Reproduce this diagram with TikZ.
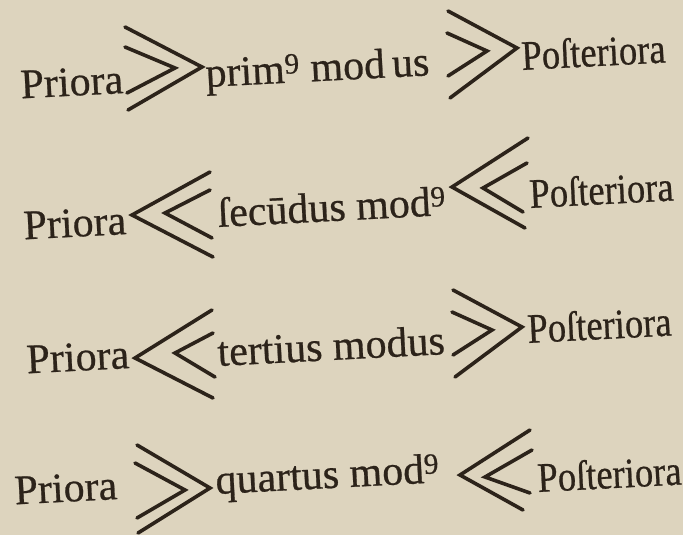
\documentclass[tikz,border=0pt]{standalone}
\usepackage{fontspec}
\setmainfont{Liberation Serif}[FakeBold=0.6]
\definecolor{paper}{RGB}{221,212,190}
\definecolor{ink}{RGB}{44,35,26}

\begin{document}
\begin{tikzpicture}[x=1pt,y=-1pt,
  word/.style={font=\fontsize{42}{48}\selectfont,text=ink,inner sep=0pt,anchor=base west,rotate=3},
  postword/.style={word,font=\fontsize{42}{48}\selectfont\addfontfeature{FakeStretch=0.87}},
  chev/.style={draw=ink,line width=3.6pt,line cap=round,line join=miter}]
\fill[paper] (0,0) rectangle (683,535);
% Priora ... Posteriora, one row per modus
\node[word,anchor=base east] (pri1) at (124,93) {Priora};
\node[word] (mod1) at (206,87) {prim\textsuperscript{9} mod\,us};
\node[postword] (post1) at (522,70) {Poſteriora};
\node[word,anchor=base east] (pri2) at (127,234) {Priora};
\node[word] (mod2) at (218,227) {ſecūdus mod\textsuperscript{9}};
\node[postword] (post2) at (530,208) {Poſteriora};
\node[word,anchor=base east] (pri3) at (130,368) {Priora};
\node[word] (mod3) at (218,366) {tertius modus};
\node[postword] (post3) at (528,343) {Poſteriora};
\node[word,anchor=base east] (pri4) at (118,499) {Priora};
\node[word] (mod4) at (216,494) {quartus mod\textsuperscript{9}};
\node[postword] (post4) at (538,492) {Poſteriora};
% double chevrons: top end / tip / bottom end
\foreach \ax/\ay/\tx/\ty/\bx/\by in %
{125/27/202/67/128/110, 125/47/175/68/127/93,
 448/11/517/48/450/98, 447/33/487/51/448/76,
 210/172/132/215/213/257, 210/190/165/213/212/238,
 528/138/452/187/525/228, 527/163/483/188/523/212,
 212/310/135/358/213/398, 213/333/175/353/215/377,
 453/290/522/327/455/377, 452/312/492/330/453/355,
 137/445/210/488/138/533, 135/463/185/490/137/518,
 530/430/460/475/523/510, 532/450/485/477/530/493} {
   \draw[chev] (\ax,\ay) -- (\tx,\ty) -- (\bx,\by);
}
\end{tikzpicture}
\end{document}
